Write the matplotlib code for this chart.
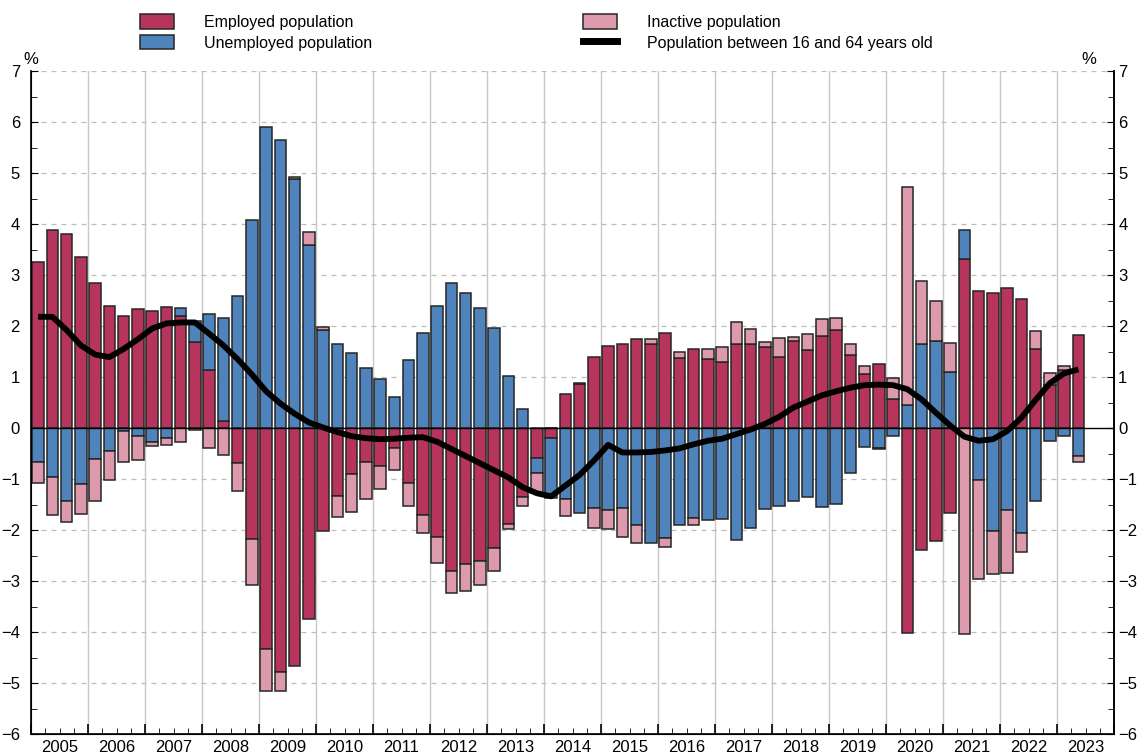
import matplotlib
matplotlib.use('Agg')
import matplotlib.pyplot as plt
from matplotlib.patches import Patch
from matplotlib.lines import Line2D
import numpy as np

plt.rcParams['font.family'] = ['Liberation Sans', 'DejaVu Sans']

# quarterly contributions, 2005 Q1 .. 2023 Q2 (percentage points)
years = list(range(2005, 2024))

employed = [3.25, 3.88, 3.80, 3.35, 2.85, 2.39, 2.20, 2.33,
            2.29, 2.37, 2.20, 1.69, 1.14, 0.14, -0.68, -2.18,
            -4.33, -4.79, -4.66, -3.75, -2.02, -1.33, -0.91, -0.67,
            -0.74, -0.40, -1.07, -1.71, -2.13, -2.81, -2.67, -2.61,
            -2.35, -1.88, -1.35, -0.58, -0.20, 0.67, 0.86, 1.40,
            1.61, 1.64, 1.75, 1.64, 1.86, 1.37, 1.55, 1.35,
            1.29, 1.64, 1.65, 1.58, 1.40, 1.71, 1.53, 1.80,
            1.93, 1.44, 1.06, 1.25, 0.56, -4.01, -2.39, -2.21,
            -1.67, 3.31, 2.69, 2.64, 2.74, 2.53, 1.55, 0.84,
            1.14, 1.82]

unemployed = [-0.66, -0.97, -1.44, -1.10, -0.61, -0.46, -0.05, -0.15,
              -0.28, -0.20, 0.15, 0.41, 1.09, 2.01, 2.58, 4.08,
              5.91, 5.65, 4.88, 3.59, 1.92, 1.64, 1.48, 1.18,
              0.97, 0.61, 1.33, 1.87, 2.39, 2.84, 2.64, 2.35,
              1.96, 1.02, 0.37, -0.30, -1.18, -1.39, -1.67, -1.56,
              -1.61, -1.56, -1.90, -2.25, -2.16, -1.90, -1.77, -1.80,
              -1.78, -2.20, -1.97, -1.58, -1.53, -1.44, -1.36, -1.54,
              -1.49, -0.89, -0.38, -0.40, -0.15, 0.45, 1.64, 1.71,
              1.09, 0.57, -1.02, -2.02, -1.61, -2.05, -1.43, -0.25,
              -0.15, -0.54]

inactive = [-0.41, -0.74, -0.40, -0.59, -0.82, -0.56, -0.62, -0.48,
            -0.07, -0.13, -0.27, -0.03, -0.39, -0.53, -0.55, -0.90,
            -0.83, -0.37, 0.05, 0.26, 0.07, -0.42, -0.74, -0.72,
            -0.46, -0.42, -0.45, -0.34, -0.51, -0.42, -0.52, -0.46,
            -0.45, -0.11, -0.18, -0.39, 0.00, -0.33, 0.02, -0.41,
            -0.38, -0.58, -0.35, 0.10, -0.18, 0.12, -0.14, 0.19,
            0.30, 0.44, 0.29, 0.10, 0.36, 0.08, 0.31, 0.33,
            0.22, 0.21, 0.16, -0.02, 0.43, 4.27, 1.24, 0.79,
            0.57, -4.03, -1.94, -0.84, -1.23, -0.39, 0.36, 0.23,
            0.08, -0.13]

pop_16_64 = [2.18, 2.18, 1.92, 1.62, 1.44, 1.39, 1.55, 1.74,
             1.95, 2.05, 2.07, 2.07, 1.85, 1.62, 1.35, 1.05,
             0.72, 0.48, 0.28, 0.11, 0.01, -0.08, -0.16, -0.20,
             -0.22, -0.21, -0.19, -0.18, -0.27, -0.41, -0.55, -0.69,
             -0.83, -0.97, -1.16, -1.28, -1.34, -1.13, -0.92, -0.64,
             -0.33, -0.48, -0.48, -0.47, -0.44, -0.40, -0.32, -0.25,
             -0.21, -0.12, -0.03, 0.08, 0.22, 0.40, 0.52, 0.64,
             0.72, 0.79, 0.84, 0.85, 0.84, 0.76, 0.56, 0.30,
             0.05, -0.17, -0.25, -0.22, -0.06, 0.20, 0.55, 0.88,
             1.07, 1.15]

labels = ['Employed population', 'Unemployed population',
          'Inactive population', 'Population between 16 and 64 years old']
colors = ['#B7345C', '#4F83BC', '#DE9AAD']

fig = plt.figure(figsize=(11.37, 7.53), dpi=100)
ax = fig.add_axes([31 / 1137, 1 - 734 / 753, (1114 - 31) / 1137, (734 - 71) / 753])

x = np.arange(len(employed))
pos_base = np.zeros(len(x))
neg_base = np.zeros(len(x))
for series, col in zip([employed, unemployed, inactive], colors):
    v = np.array(series)
    bottom = np.where(v >= 0, pos_base, neg_base)
    ax.bar(x, v, bottom=bottom, width=0.82, color=col,
           edgecolor='#262626', linewidth=1.1, zorder=3)
    pos_base = pos_base + np.clip(v, 0, None)
    neg_base = neg_base + np.clip(v, None, 0)

ax.plot(x, pop_16_64, color='black', linewidth=4.2, zorder=5,
        solid_capstyle='butt', solid_joinstyle='round')
ax.axhline(0, color='black', linewidth=1, zorder=4)

n_slots = 4 * len(years)
ax.set_xlim(-0.5, n_slots - 0.5)
ax.set_ylim(-6, 7)

# gridlines
for k in range(1, len(years)):
    ax.axvline(4 * k - 0.5, color='#C8C8C8', linewidth=1, zorder=1)
for yv in range(-6, 8):
    if yv != 0:
        ax.axhline(yv, color='#BDBDBD', linewidth=0.9, dashes=(4, 4), zorder=1)

ax.spines['top'].set_visible(False)
for s in ['left', 'right', 'bottom']:
    ax.spines[s].set_linewidth(1.2)

ax.set_yticks(range(-6, 8))
ax.set_yticks(np.arange(-5.5, 7, 1.0), minor=True)
ax.tick_params(axis='y', which='both', direction='in', left=True, right=False,
               labelsize=12, pad=8)
ax.tick_params(axis='y', which='major', length=5)
ax.tick_params(axis='y', which='minor', length=4)

# right-hand scale
ax2 = ax.twinx()
ax2.set_ylim(-6, 7)
ax2.spines['top'].set_visible(False)
ax2.spines['right'].set_linewidth(1.2)
ax2.set_yticks(range(-6, 8))
ax2.set_yticks(np.arange(-5.5, 7, 1.0), minor=True)
ax2.tick_params(axis='y', which='both', direction='in', labelsize=12, pad=3)
ax2.tick_params(axis='y', which='major', length=5)
ax2.tick_params(axis='y', which='minor', length=4)

ax.set_xticks(np.arange(-0.5, n_slots, 4))
ax.set_xticks(np.arange(-0.5, n_slots, 1), minor=True)
ax.tick_params(axis='x', which='major', direction='in', length=7, width=1.2,
               labelbottom=False)
ax.tick_params(axis='x', which='minor', direction='in', length=4)

for k, yr in enumerate(years):
    ax.text(4 * k + 1.5, -6.12, str(yr), ha='center', va='top', fontsize=12)

ax.text(0.0, 1.006, '%', transform=ax.transAxes, ha='center', va='bottom', fontsize=12)
ax.text(0.977, 1.006, '%', transform=ax.transAxes, ha='center', va='bottom', fontsize=12)

h_emp = Patch(facecolor=colors[0], edgecolor='#262626', linewidth=1.1)
h_unemp = Patch(facecolor=colors[1], edgecolor='#262626', linewidth=1.1)
h_inact = Patch(facecolor=colors[2], edgecolor='#262626', linewidth=1.1)
h_line = Line2D([0], [0], color='black', linewidth=5)

leg_kw = dict(frameon=False, fontsize=11.5, handlelength=2.1, handleheight=1.05,
              handletextpad=1.9, labelspacing=0.3, borderpad=0, borderaxespad=0,
              loc='upper left')
fig.legend([h_emp, h_unemp], labels[:2], bbox_to_anchor=(140 / 1137, 1 - 14 / 753), **leg_kw)
fig.legend([h_inact, h_line], labels[2:], bbox_to_anchor=(583 / 1137, 1 - 14 / 753), **leg_kw)

fig.savefig('out.png', dpi=100)
